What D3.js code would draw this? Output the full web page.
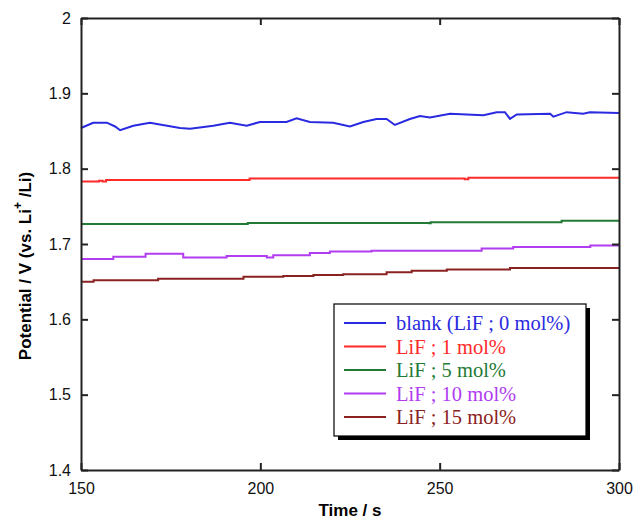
<!DOCTYPE html>
<html>
<head>
<meta charset="utf-8">
<script src="https://cdn.jsdelivr.net/npm/d3@7"></script>
<style>
  body { margin: 0; background: #fff; }
  svg { display: block; }
</style>
</head>
<body>
<div id="chart"></div>
<script>
// Potential vs time for LiF additions

const seriesNames = ['blank (LiF ; 0 mol%)', 'LiF ; 1 mol%', 'LiF ; 5 mol%', 'LiF ; 10 mol%', 'LiF ; 15 mol%'];
const seriesColors = ['#2a2ae0', '#ff2a2a', '#237a35', '#b23cf0', '#8b2222'];

const blankT = [150, 153.4, 157.2, 159.5, 160.9, 164.6, 169.2, 177.6, 180.4, 186.9, 191.5, 196.2, 199.9, 207.3, 210.1, 213.8, 220.3, 225, 228.7, 232.4, 235.2, 237.5, 241.7, 244.5, 247.3, 252.9, 262.2, 265.9, 268.2, 269.6, 271.5, 280.8, 281.7, 285.4, 290, 291.9, 300];
const blankV = [1.854, 1.861, 1.861, 1.856, 1.851, 1.857, 1.861, 1.854, 1.853, 1.857, 1.861, 1.857, 1.862, 1.862, 1.867, 1.862, 1.861, 1.856, 1.862, 1.866, 1.866, 1.858, 1.866, 1.870, 1.868, 1.873, 1.871, 1.875, 1.875, 1.866, 1.872, 1.873, 1.869, 1.875, 1.873, 1.875, 1.874];

const li1T = [150, 155, 156, 157, 196.5, 197, 230, 256.5, 257, 258, 300];
const li1V = [1.783, 1.784, 1.783, 1.785, 1.785, 1.787, 1.787, 1.787, 1.786, 1.788, 1.788];

const li5T = [150, 196, 196.5, 247, 247.5, 283.5, 284, 300];
const li5V = [1.7265, 1.7265, 1.728, 1.7275, 1.729, 1.729, 1.731, 1.731];

const li10T = [150, 159, 168, 178.5, 190.6, 201.8, 203.6, 213.8, 219.4, 225, 231, 261.7, 270.5, 292, 298, 300];
const li10V = [1.680, 1.683, 1.687, 1.682, 1.684, 1.682, 1.685, 1.688, 1.690, 1.690, 1.691, 1.694, 1.696, 1.698, 1.698, 1.700];

const li15T = [150, 153.5, 171.5, 195.3, 206.4, 214.8, 223.1, 235.2, 242.2, 252, 269.6, 300];
const li15V = [1.650, 1.652, 1.654, 1.6565, 1.6575, 1.659, 1.660, 1.6625, 1.6645, 1.666, 1.668, 1.668];

const xTicks = [150, 200, 250, 300];
const yTicks = [1.4, 1.5, 1.6, 1.7, 1.8, 1.9, 2];

const series = [
  { t: blankT, v: blankV, curve: d3.curveLinear },
  { t: li1T, v: li1V, curve: d3.curveStepAfter },
  { t: li5T, v: li5V, curve: d3.curveStepAfter },
  { t: li10T, v: li10V, curve: d3.curveStepAfter },
  { t: li15T, v: li15V, curve: d3.curveStepAfter }
];

const W = 635, H = 520;
const margin = { left: 81, right: 16, top: 18, bottom: 50 };

const svg = d3.select('#chart').append('svg')
  .attr('width', W)
  .attr('height', H);

const x = d3.scaleLinear().domain([150, 300]).range([margin.left, W - margin.right]);
const y = d3.scaleLinear().domain([1.4, 2]).range([H - margin.bottom, margin.top]);

const tickFont = 'Arial, "Liberation Sans", sans-serif';

// series lines
svg.append('g')
  .selectAll('path')
  .data(series)
  .join('path')
  .attr('d', s => d3.line().curve(s.curve)
    .x(d => x(d[0]))
    .y(d => y(d[1]))(s.t.map((t, i) => [t, s.v[i]])))
  .attr('fill', 'none')
  .attr('stroke', (s, i) => seriesColors[i])
  .attr('stroke-width', 2);

// axes, ticks inward on all four sides
const axisBottom = d3.axisBottom(x).tickValues(xTicks).tickSizeInner(-7).tickSizeOuter(0).tickPadding(10).tickFormat(d3.format('d'));
const axisTop = d3.axisTop(x).tickValues(xTicks).tickSizeInner(-7).tickSizeOuter(0).tickFormat('');
const axisLeft = d3.axisLeft(y).tickValues(yTicks).tickSizeInner(-7).tickSizeOuter(0).tickPadding(10).tickFormat(d => d === 2 ? '2' : d3.format('.1f')(d));
const axisRight = d3.axisRight(y).tickValues(yTicks).tickSizeInner(-7).tickSizeOuter(0).tickFormat('');

function styleAxis(g) {
  g.select('.domain').attr('stroke', '#222').attr('stroke-width', 2);
  g.selectAll('.tick line').attr('stroke', '#222').attr('stroke-width', 2);
  g.selectAll('.tick text').attr('font-family', tickFont).attr('font-size', 16).attr('fill', '#111');
}

svg.append('g').attr('transform', `translate(0,${H - margin.bottom})`).call(axisBottom).call(styleAxis)
  .selectAll('.tick text').attr('dy', '0.85em');
svg.append('g').attr('transform', `translate(0,${margin.top})`).call(axisTop).call(styleAxis);
svg.append('g').attr('transform', `translate(${margin.left},0)`).call(axisLeft).call(styleAxis);
svg.append('g').attr('transform', `translate(${W - margin.right},0)`).call(axisRight).call(styleAxis);

// axis titles
svg.append('text')
  .attr('x', 350)
  .attr('y', 516)
  .attr('text-anchor', 'middle')
  .attr('font-family', tickFont)
  .attr('font-weight', 'bold')
  .attr('font-size', 17)
  .text('Time / s');

const yTitle = svg.append('text')
  .attr('transform', 'translate(31,266) rotate(-90)')
  .attr('text-anchor', 'middle')
  .attr('font-family', tickFont)
  .attr('font-weight', 'bold')
  .attr('font-size', 17);
yTitle.append('tspan').text('Potential / V (vs. Li');
yTitle.append('tspan').attr('dy', -9).attr('font-size', 12).text('+');
yTitle.append('tspan').attr('dy', 9).text(' /Li)');

// legend box with drop shadow
const lg = { x: 334, y: 304, w: 252, h: 132 };
svg.append('rect')
  .attr('x', lg.x + 4).attr('y', lg.y + 4)
  .attr('width', lg.w).attr('height', lg.h)
  .attr('fill', '#000');
svg.append('rect')
  .attr('x', lg.x).attr('y', lg.y)
  .attr('width', lg.w).attr('height', lg.h)
  .attr('fill', '#fff')
  .attr('stroke', '#000')
  .attr('stroke-width', 1.2);

const rows = svg.append('g')
  .selectAll('g')
  .data(seriesNames)
  .join('g')
  .attr('transform', (d, i) => `translate(0,${lg.y + 19 + i * 23.5})`);

rows.append('line')
  .attr('x1', 344).attr('x2', 386)
  .attr('stroke', (d, i) => seriesColors[i])
  .attr('stroke-width', 2);

rows.append('text')
  .attr('x', 396)
  .attr('dy', '0.35em')
  .attr('font-family', '"Liberation Serif", "Times New Roman", serif')
  .attr('font-size', 20.5)
  .attr('fill', (d, i) => seriesColors[i])
  .text(d => d);
</script>
</body>
</html>
